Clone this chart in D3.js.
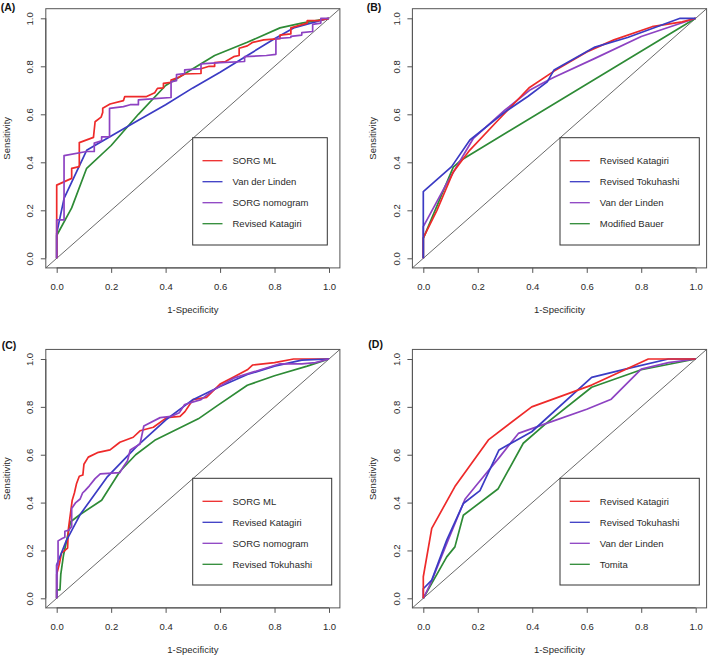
<!DOCTYPE html>
<html>
<head>
<meta charset="utf-8">
<script src="https://cdn.jsdelivr.net/npm/d3@7"></script>
<style>
  html, body { margin: 0; padding: 0; background: #fff; }
  svg { display: block; font-family: "Liberation Sans", Arial, sans-serif; }
</style>
</head>
<body>
<svg id="chart" width="709" height="657"></svg>
<script>
// ---------------- DATA ----------------
const tickValues = [0, 0.2, 0.4, 0.6, 0.8, 1.0];
const tickLabels = ["0.0", "0.2", "0.4", "0.6", "0.8", "1.0"];
const xTitle = "1-Specificity";
const yTitle = "Sensitivity";
const panelTitles = ["(A)", "(B)", "(C)", "(D)"];

// Panel A
const namesA = ["SORG ML", "Van der Linden", "SORG nomogram", "Revised Katagiri"];
const A_sorgML = [[0,0],[0,0.305],[0.055,0.333],[0.055,0.375],[0.083,0.382],[0.083,0.482],[0.135,0.504],[0.141,0.569],[0.163,0.588],[0.169,0.608],[0.169,0.625],[0.196,0.643],[0.245,0.657],[0.25,0.674],[0.33,0.674],[0.36,0.69],[0.37,0.708],[0.392,0.71],[0.392,0.729],[0.42,0.733],[0.42,0.743],[0.45,0.755],[0.47,0.768],[0.53,0.77],[0.53,0.79],[0.56,0.8],[0.58,0.8],[0.58,0.815],[0.62,0.82],[0.65,0.84],[0.67,0.845],[0.67,0.875],[0.7,0.885],[0.72,0.9],[0.76,0.91],[0.82,0.915],[0.82,0.93],[0.86,0.935],[0.86,0.96],[0.92,0.98],[0.92,0.99],[0.96,0.99],[1,1]];
const A_vanDerLinden = [[0,0],[0,0.104],[0.027,0.25],[0.11,0.45],[0.2,0.51],[0.3,0.575],[0.4,0.64],[0.5,0.71],[0.6,0.775],[0.7,0.845],[0.8,0.915],[0.87,0.96],[1,1]];
const A_sorgNomogram = [[0,0],[0,0.16],[0.027,0.16],[0.027,0.428],[0.11,0.445],[0.138,0.445],[0.138,0.48],[0.165,0.49],[0.165,0.506],[0.194,0.506],[0.194,0.625],[0.245,0.632],[0.27,0.64],[0.3,0.64],[0.3,0.66],[0.36,0.665],[0.42,0.67],[0.42,0.735],[0.44,0.74],[0.44,0.765],[0.47,0.77],[0.47,0.785],[0.53,0.79],[0.53,0.81],[0.6,0.815],[0.69,0.82],[0.69,0.84],[0.77,0.845],[0.805,0.85],[0.805,0.915],[0.86,0.92],[0.86,0.925],[0.9,0.93],[0.9,0.94],[0.94,0.945],[0.94,0.975],[0.97,0.98],[0.97,1],[1,1]];
const A_revisedKatagiri = [[0,0],[0,0.095],[0.055,0.21],[0.11,0.375],[0.2,0.47],[0.3,0.6],[0.4,0.72],[0.5,0.79],[0.58,0.845],[0.7,0.9],[0.82,0.96],[0.9,0.98],[1,1]];

// Panel B
const namesB = ["Revised Katagiri", "Revised Tokuhashi", "Van der Linden", "Modified Bauer"];
const B_revisedKatagiri = [[0,0],[0,0.085],[0.05,0.2],[0.11,0.36],[0.17,0.45],[0.27,0.57],[0.39,0.712],[0.48,0.78],[0.6,0.86],[0.7,0.91],[0.84,0.965],[0.95,0.985],[1,1]];
const B_revisedTokuhashi = [[0,0],[0,0.278],[0.104,0.382],[0.171,0.493],[0.3,0.61],[0.385,0.675],[0.455,0.735],[0.48,0.785],[0.63,0.88],[0.75,0.92],[0.943,1],[1,1]];
const B_vanDerLinden = [[0,0],[0,0.132],[0.08,0.3],[0.184,0.5],[0.3,0.618],[0.39,0.7],[0.46,0.743],[0.48,0.754],[0.63,0.833],[0.8,0.924],[1,1]];
const B_modifiedBauer = [[0,0],[0,0.083],[0.11,0.38],[0.14,0.41],[1,1]];

// Panel C
const namesC = ["SORG ML", "Revised Katagiri", "SORG nomogram", "Revised Tokuhashi"];
const C_sorgML = [[0,0],[0,0.1],[0.01,0.145],[0.018,0.19],[0.03,0.2],[0.04,0.21],[0.043,0.29],[0.057,0.41],[0.065,0.44],[0.073,0.48],[0.083,0.51],[0.096,0.515],[0.1,0.56],[0.116,0.59],[0.153,0.61],[0.196,0.62],[0.232,0.652],[0.281,0.673],[0.306,0.7],[0.355,0.715],[0.404,0.755],[0.453,0.76],[0.471,0.78],[0.5,0.83],[0.55,0.84],[0.6,0.895],[0.65,0.925],[0.7,0.955],[0.72,0.975],[0.8,0.985],[0.87,1],[1,1]];
const C_revisedKatagiri = [[0,0],[0,0.14],[0.035,0.24],[0.086,0.35],[0.184,0.505],[0.294,0.635],[0.4,0.745],[0.5,0.83],[0.6,0.885],[0.7,0.935],[0.8,0.97],[0.9,0.995],[1,1]];
const C_sorgNomogram = [[0,0],[0,0.14],[0.005,0.14],[0.005,0.24],[0.02,0.25],[0.03,0.255],[0.03,0.28],[0.045,0.285],[0.055,0.3],[0.055,0.375],[0.07,0.4],[0.086,0.415],[0.095,0.44],[0.104,0.45],[0.12,0.47],[0.141,0.5],[0.16,0.52],[0.232,0.525],[0.245,0.55],[0.26,0.575],[0.27,0.62],[0.306,0.645],[0.32,0.72],[0.38,0.755],[0.42,0.76],[0.45,0.775],[0.47,0.81],[0.53,0.83],[0.575,0.87],[0.65,0.92],[0.72,0.945],[0.82,0.98],[0.9,0.98],[0.95,0.985],[1,1]];
const C_revisedTokuhashi = [[0,0],[0,0.035],[0.012,0.035],[0.015,0.1],[0.025,0.18],[0.051,0.32],[0.086,0.35],[0.165,0.41],[0.232,0.53],[0.29,0.6],[0.36,0.66],[0.52,0.75],[0.59,0.805],[0.7,0.89],[0.8,0.93],[0.92,0.97],[1,1]];

// Panel D
const namesD = ["Revised Katagiri", "Revised Tokuhashi", "Van der Linden", "Tomita"];
const D_revisedKatagiri = [[0,0],[0,0.09],[0.031,0.292],[0.116,0.467],[0.239,0.662],[0.398,0.8],[0.618,0.891],[0.826,1],[1,1]];
const D_revisedTokuhashi = [[0,0],[0,0.04],[0.031,0.076],[0.086,0.243],[0.147,0.396],[0.208,0.45],[0.278,0.62],[0.398,0.696],[0.618,0.923],[0.753,0.961],[0.9,1],[1,1]];
const D_vanDerLinden = [[0,0],[0.03,0.07],[0.09,0.24],[0.153,0.414],[0.2,0.48],[0.28,0.59],[0.349,0.689],[0.45,0.73],[0.6,0.79],[0.69,0.832],[0.8,0.958],[0.9,0.985],[1,1]];
const D_tomita = [[0,0],[0.086,0.173],[0.116,0.215],[0.147,0.347],[0.275,0.458],[0.367,0.648],[0.45,0.73],[0.618,0.882],[0.8,0.955],[1,1]];

// ---------------- STYLE / LAYOUT ----------------
const seriesColors = ["#ee2a2a", "#3b3bc4", "#8d42c2", "#2e8b36"];
const panelLayout = [
  { x0: 56.7,  ux: 272.3, y0: 258.3, uy: 240,   tx: 0.7,   ty: 10.8,  leg: { x: 192.7, y: 137.7, w: 134.6, h: 107.3 } },
  { x0: 423.3, ux: 272.4, y0: 258.3, uy: 240,   tx: 366.7, ty: 10.5,  leg: { x: 560.0, y: 137.7, w: 139.3, h: 107.3 } },
  { x0: 56.7,  ux: 272.3, y0: 598.3, uy: 239.3, tx: 1.7,   ty: 348.8, leg: { x: 192.7, y: 478.3, w: 139.0, h: 106.7 } },
  { x0: 423.3, ux: 272.4, y0: 598.3, uy: 239.3, tx: 368.3, ty: 347.8, leg: { x: 560.0, y: 478.3, w: 139.3, h: 106.7 } }
];
const panelSeries = [
  { names: namesA, data: [A_sorgML, A_vanDerLinden, A_sorgNomogram, A_revisedKatagiri] },
  { names: namesB, data: [B_revisedKatagiri, B_revisedTokuhashi, B_vanDerLinden, B_modifiedBauer] },
  { names: namesC, data: [C_sorgML, C_revisedKatagiri, C_sorgNomogram, C_revisedTokuhashi] },
  { names: namesD, data: [D_revisedKatagiri, D_revisedTokuhashi, D_vanDerLinden, D_tomita] }
];
// draw order (bottom to top) per panel
const drawOrder = [[3, 1, 0, 2], [3, 2, 0, 1], [3, 0, 1, 2], [3, 2, 1, 0]];

const svg = d3.select("#chart");
const FONT = 9.5;
const textColor = "#2a2a2a";

panelLayout.forEach((L, pi) => {
  const x = d3.scaleLinear().domain([-0.04, 1.04]).range([L.x0 - 0.04 * L.ux, L.x0 + 1.04 * L.ux]);
  const y = d3.scaleLinear().domain([-0.04, 1.04]).range([L.y0 + 0.04 * L.uy, L.y0 - 1.04 * L.uy]);
  const g = svg.append("g");
  const [bx0, bx1] = x.range();
  const [by1, by0] = [y(1.04), y(-0.04)];

  const clipId = "clip" + pi;
  g.append("clipPath").attr("id", clipId).append("rect")
    .attr("x", bx0).attr("y", by1).attr("width", bx1 - bx0).attr("height", by0 - by1);

  // diagonal reference line
  g.append("line")
    .attr("x1", x(-0.04)).attr("y1", y(-0.04)).attr("x2", x(1.04)).attr("y2", y(1.04))
    .attr("stroke", "#444").attr("stroke-width", 0.8);

  // curves
  const line = d3.line().x(d => x(d[0])).y(d => y(d[1]));
  const S = panelSeries[pi];
  drawOrder[pi].forEach(si => {
    g.append("path")
      .datum(S.data[si])
      .attr("d", line)
      .attr("fill", "none")
      .attr("stroke", seriesColors[si])
      .attr("stroke-width", 1.7)
      .attr("stroke-linejoin", "round")
      .attr("clip-path", `url(#${clipId})`);
  });

  // box
  g.append("rect")
    .attr("x", bx0).attr("y", by1).attr("width", bx1 - bx0).attr("height", by0 - by1)
    .attr("fill", "none").attr("stroke", "#555").attr("stroke-width", 1);

  // x axis
  const xAxis = d3.axisBottom(x).tickValues(tickValues)
    .tickFormat((d, i) => tickLabels[i]).tickSize(5).tickPadding(10);
  const gx = g.append("g").attr("transform", `translate(0,${by0})`).call(xAxis);
  gx.select(".domain").attr("stroke", "#555").attr("d", `M${x(0)},0H${x(1)}`);
  gx.selectAll(".tick line").attr("stroke", "#555");
  gx.selectAll("text").attr("font-size", FONT).attr("fill", textColor);
  gx.attr("font-family", null).attr("font-size", null);

  // y axis
  const yAxis = d3.axisLeft(y).tickValues(tickValues)
    .tickFormat((d, i) => tickLabels[i]).tickSize(5);
  const gy = g.append("g").attr("transform", `translate(${bx0},0)`).call(yAxis);
  gy.select(".domain").attr("stroke", "#555").attr("d", `M0,${y(0)}V${y(1)}`);
  gy.selectAll(".tick line").attr("stroke", "#555");
  gy.selectAll("text")
    .attr("x", null).attr("dy", "0.35em")
    .attr("transform", "translate(-16,0) rotate(-90)")
    .attr("text-anchor", "middle")
    .attr("font-size", FONT).attr("fill", textColor);
  gy.attr("font-family", null).attr("font-size", null);

  // axis titles
  g.append("text")
    .attr("x", (bx0 + bx1) / 2).attr("y", by0 + 45.5)
    .attr("text-anchor", "middle").attr("font-size", FONT).attr("fill", textColor)
    .text(xTitle);
  g.append("text")
    .attr("transform", `translate(${bx0 - 39.6},${(by0 + by1) / 2}) rotate(-90)`)
    .attr("dy", "0.35em")
    .attr("text-anchor", "middle").attr("font-size", FONT).attr("fill", textColor)
    .text(yTitle);

  // panel title
  g.append("text")
    .attr("x", L.tx).attr("y", L.ty)
    .attr("font-size", 10.5).attr("font-weight", "bold").attr("fill", "#111")
    .text(panelTitles[pi]);

  // legend
  const lg = g.append("g");
  lg.append("rect")
    .attr("x", L.leg.x).attr("y", L.leg.y).attr("width", L.leg.w).attr("height", L.leg.h)
    .attr("fill", "#fff").attr("stroke", "#333").attr("stroke-width", 1);
  S.names.forEach((name, i) => {
    const ry = L.leg.y + 23 + i * 21;
    lg.append("line")
      .attr("x1", L.leg.x + 9.8).attr("x2", L.leg.x + 29.8)
      .attr("y1", ry).attr("y2", ry)
      .attr("stroke", seriesColors[i]).attr("stroke-width", 1.3);
    lg.append("text")
      .attr("x", L.leg.x + 39.8).attr("y", ry).attr("dy", "0.35em")
      .attr("font-size", FONT).attr("fill", textColor)
      .text(name);
  });
});
</script>
</body>
</html>
